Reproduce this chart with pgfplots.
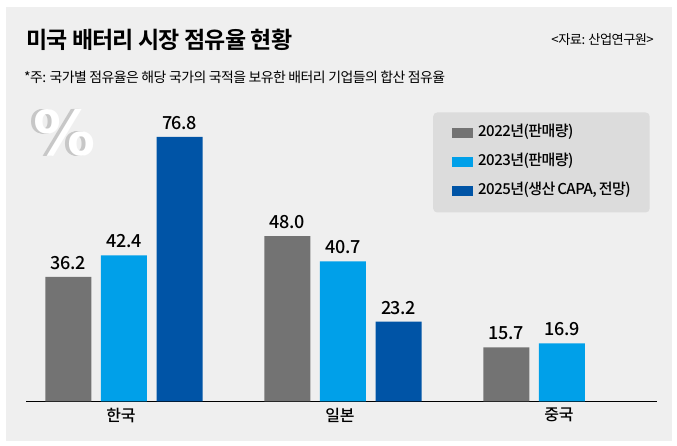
\documentclass[border=0pt]{standalone}
\usepackage{pgfplots}
\pgfplotsset{compat=1.18}
\usepackage{fontspec}
\setmainfont[BoldFont={Noto Sans CJK KR Bold}]{Noto Sans CJK KR}
\newfontfamily\medf[LetterSpace=-2]{Noto Sans CJK KR Medium}
\newfontfamily\legf[LetterSpace=-3.5]{Noto Sans CJK KR Medium}
\newfontfamily\titlef[LetterSpace=-3.5]{Noto Sans CJK KR Bold}
\newfontfamily\regf[LetterSpace=-4]{Noto Sans CJK KR}
\newfontfamily\pctf{DejaVu Sans Bold}
\definecolor{panel}{HTML}{EFEFEF}
\definecolor{leg}{HTML}{DCDCDC}
\definecolor{cg}{HTML}{737373}
\definecolor{cb}{HTML}{00A0E9}
\definecolor{cd}{HTML}{0054A6}
\begin{document}
\begin{tikzpicture}
\useasboundingbox (0pt,0pt) rectangle (677pt,446pt);
\fill[white] (0pt,0pt) rectangle (677pt,446pt);
\fill[panel] (6pt,5pt) rectangle (672pt,439pt);
\node[anchor=west,inner sep=0,font=\titlef\fontsize{23}{23}\selectfont] at (26pt,406pt) {미국 배터리 시장 점유율 현황};
\node[anchor=east,inner sep=0,font=\regf\fontsize{13.2}{14}\selectfont] at (654pt,406pt) {<자료: 산업연구원>};
\node[anchor=west,inner sep=0,font=\regf\fontsize{13.9}{15}\selectfont] at (24pt,369pt) {*주: 국가별 점유율은 해당 국가의 국적을 보유한 배터리 기업들의 합산 점유율};
\foreach \d in {0,1,2,3,4}{
\node[inner sep=0,text=black!22,font=\pctf\fontsize{62}{62}\selectfont] at (61pt+\d*0.5pt,313pt) {\%};}
\node[inner sep=0,text=white,font=\pctf\fontsize{62}{62}\selectfont] at (65pt,313pt) {\%};
\begin{axis}[
  at={(26pt,44.5pt)},anchor=south west,scale only axis,
  width=631pt,height=310pt,
  xmin=-0.4475,xmax=2.434,ymin=0,ymax=90,
  axis x line=bottom,axis y line=none,
  axis line style={black,line width=0.9pt,-},
  xtick={0,1,2},xticklabels={한국,일본,중국},
  major tick length=0pt,
  tick label style={font=\medf\fontsize{16}{16}\selectfont,text=black},
  xticklabel style={yshift=-3pt,xshift=-3pt},
  ybar,bar width=46pt,
  nodes near coords,
  nodes near coords style={font=\medf\fontsize{18}{18}\selectfont,text=black,/pgf/number format/fixed,/pgf/number format/fixed zerofill,/pgf/number format/precision=1,/pgf/number format/assume math mode=true,inner sep=0,yshift=7pt,anchor=south},
  legend style={at={(axis description cs:0.645,0.933)},anchor=north west,
   draw=none,fill=leg,rounded corners=4pt,inner xsep=19pt,inner ysep=14.5pt,
   font=\legf\fontsize{15}{15}\selectfont,
   nodes={inner sep=0pt,text height=10pt,text depth=3pt},
   row sep=16pt},
  legend cell align=left,
  legend image code/.code={\fill[#1,sharp corners] (0pt,-5pt) rectangle (20.5pt,5pt);\path (26pt,0pt);},
]
\addplot[fill=cg,draw=none,bar shift=-55.6pt] coordinates {(0,36.2)(1,48.0)(2,15.7)};
\addplot[fill=cb,draw=none,bar shift=0pt] coordinates {(0,42.4)(1,40.7)(2,16.9)};
\addplot[fill=cd,draw=none,bar shift=55.6pt] coordinates {(0,76.8)(1,23.2)};
\legend{2022년(판매량),2023년(판매량),{2025년(생산\hspace{-1pt} CAPA{,}\hspace{-1pt} 전망)\hspace{4.5pt}}}
\end{axis}
\end{tikzpicture}
\end{document}
